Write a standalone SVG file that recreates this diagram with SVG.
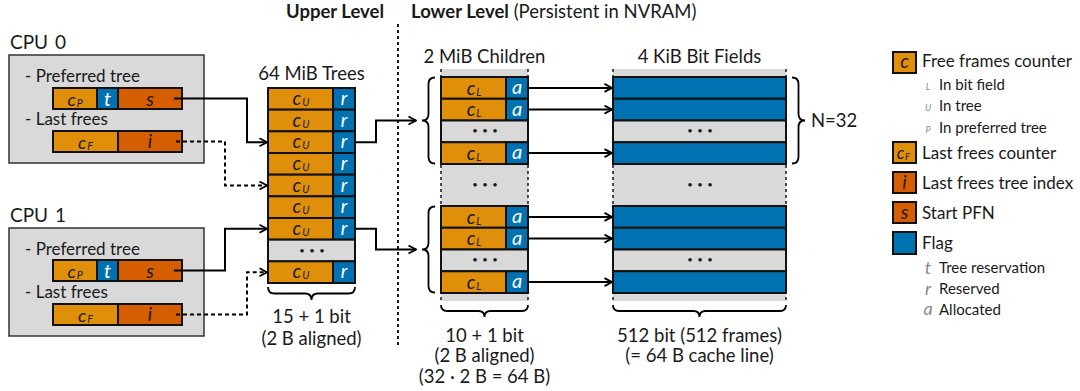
<svg xmlns="http://www.w3.org/2000/svg" width="1080" height="391" viewBox="0 0 1080 391">
<style>
text{font-family:Lato,"Open Sans","Liberation Sans",sans-serif;fill:#1a1a1a}
.m{font-style:italic}
.w{fill:#fff}
.g{fill:#888}
.or{fill:#DF8F0A;stroke:#111;stroke-width:2}
.ve{fill:#D55E00;stroke:#111;stroke-width:2}
.bl{fill:#0072B2;stroke:#111;stroke-width:2}
.gr{fill:#D9D9D9;stroke:#111;stroke-width:2}
.bg{fill:#D9D9D9}
.edge{stroke:#222;stroke-width:1.6;stroke-dasharray:3 3;fill:none}
.conn{fill:none;stroke:#000;stroke-width:2}
.dash{stroke-dasharray:4 3}
.brace{fill:none;stroke:#000;stroke-width:1.8}
.sep{stroke:#000;stroke-width:1.8;stroke-dasharray:3 3}
.dots{font-size:9.5px}
</style>
<defs>
<marker id="ah" viewBox="0 0 10 10" refX="9" refY="5" markerWidth="10" markerHeight="10" markerUnits="userSpaceOnUse" orient="auto">
<path d="M1.5,1 L9,5 L1.5,9" fill="none" stroke="#000" stroke-width="1.8"/>
</marker>
</defs>

<!-- headings -->
<g id="headings">
<text x="286" y="18" font-size="18.5" font-weight="bold">Upper Level</text>
<text x="411" y="18" font-size="18.5"><tspan font-weight="bold">Lower Level</tspan> (Persistent in NVRAM)</text>
<line class="sep" x1="398" y1="24" x2="398" y2="346"/>
</g>

<!-- CPU 0 -->
<g id="cpu0">
<text x="10" y="49" font-size="19">CPU <tspan x="55">0</tspan></text>
<rect x="9" y="55" width="195" height="108" fill="#D9D9D9" stroke="#333" stroke-width="1.5"/>
<text x="25" y="82" font-size="17">- Preferred tree</text>
<rect class="or" x="53" y="88" width="44" height="21"/>
<rect class="bl" x="97" y="88" width="21" height="21"/>
<rect class="ve" x="118" y="88" width="64" height="21"/>
<text class="m" x="75" y="106" font-size="18" text-anchor="middle">c<tspan font-size="10.5" dx="1" dy="1">P</tspan></text>
<text class="m w" x="107.5" y="106" font-size="20" text-anchor="middle">t</text>
<text class="m" x="150" y="106" font-size="19" text-anchor="middle">s</text>
<text x="25" y="125" font-size="17">- Last frees</text>
<rect class="or" x="53" y="131" width="65" height="21"/>
<rect class="ve" x="118" y="131" width="64" height="21"/>
<text class="m" x="85.5" y="149" font-size="18" text-anchor="middle">c<tspan font-size="10.5" dx="1" dy="1">F</tspan></text>
<text class="m" x="150" y="148" font-size="19" text-anchor="middle">i</text>
</g>

<!-- CPU 1 -->
<g id="cpu1">
<text x="10" y="222" font-size="19">CPU <tspan x="55">1</tspan></text>
<rect x="9" y="228" width="195" height="108" fill="#D9D9D9" stroke="#333" stroke-width="1.5"/>
<text x="25" y="255" font-size="17">- Preferred tree</text>
<rect class="or" x="53" y="260" width="44" height="21"/>
<rect class="bl" x="97" y="260" width="21" height="21"/>
<rect class="ve" x="118" y="260" width="64" height="21"/>
<text class="m" x="75" y="278" font-size="18" text-anchor="middle">c<tspan font-size="10.5" dx="1" dy="1">P</tspan></text>
<text class="m w" x="107.5" y="278" font-size="20" text-anchor="middle">t</text>
<text class="m" x="150" y="278" font-size="19" text-anchor="middle">s</text>
<text x="25" y="298" font-size="17">- Last frees</text>
<rect class="or" x="53" y="304" width="65" height="21"/>
<rect class="ve" x="118" y="304" width="64" height="21"/>
<text class="m" x="85.5" y="322" font-size="18" text-anchor="middle">c<tspan font-size="10.5" dx="1" dy="1">F</tspan></text>
<text class="m" x="150" y="321" font-size="19" text-anchor="middle">i</text>
</g>

<!-- 64 MiB Trees -->
<g id="trees">
<text x="311.5" y="80" font-size="18.5" text-anchor="middle">64 MiB Trees</text>
<rect class="or" x="268" y="88" width="65" height="21.67"/><rect class="bl" x="333" y="88" width="22" height="21.67"/>
<rect class="or" x="268" y="109.67" width="65" height="21.67"/><rect class="bl" x="333" y="109.67" width="22" height="21.67"/>
<rect class="or" x="268" y="131.33" width="65" height="21.67"/><rect class="bl" x="333" y="131.33" width="22" height="21.67"/>
<rect class="or" x="268" y="153" width="65" height="21.67"/><rect class="bl" x="333" y="153" width="22" height="21.67"/>
<rect class="or" x="268" y="174.67" width="65" height="21.67"/><rect class="bl" x="333" y="174.67" width="22" height="21.67"/>
<rect class="or" x="268" y="196.33" width="65" height="21.67"/><rect class="bl" x="333" y="196.33" width="22" height="21.67"/>
<rect class="or" x="268" y="218" width="65" height="21.67"/><rect class="bl" x="333" y="218" width="22" height="21.67"/>
<rect class="gr" x="268" y="239.67" width="87" height="21.67"/>
<rect class="or" x="268" y="261.33" width="65" height="21.67"/><rect class="bl" x="333" y="261.33" width="22" height="21.67"/>
<g font-size="19" text-anchor="middle">
<text class="m" x="301" y="105">c<tspan font-size="10.5" dx="1" dy="1">U</tspan></text>
<text class="m" x="301" y="126.7">c<tspan font-size="10.5" dx="1" dy="1">U</tspan></text>
<text class="m" x="301" y="148.3">c<tspan font-size="10.5" dx="1" dy="1">U</tspan></text>
<text class="m" x="301" y="170">c<tspan font-size="10.5" dx="1" dy="1">U</tspan></text>
<text class="m" x="301" y="191.7">c<tspan font-size="10.5" dx="1" dy="1">U</tspan></text>
<text class="m" x="301" y="213.3">c<tspan font-size="10.5" dx="1" dy="1">U</tspan></text>
<text class="m" x="301" y="235">c<tspan font-size="10.5" dx="1" dy="1">U</tspan></text>
<text class="m" x="301" y="278.3">c<tspan font-size="10.5" dx="1" dy="1">U</tspan></text>
</g>
<g font-size="19" text-anchor="middle">
<text class="m w" x="344" y="105">r</text>
<text class="m w" x="344" y="126.7">r</text>
<text class="m w" x="344" y="148.3">r</text>
<text class="m w" x="344" y="170">r</text>
<text class="m w" x="344" y="191.7">r</text>
<text class="m w" x="344" y="213.3">r</text>
<text class="m w" x="344" y="235">r</text>
<text class="m w" x="344" y="278.3">r</text>
</g>
<text class="dots" x="302 312 322" y="253.5" text-anchor="middle">•••</text>
<path class="brace" d="M268,287 Q268,293.5 274.5,293.5 H305 Q311.5,293.5 311.5,300 Q311.5,293.5 318,293.5 H348.5 Q355,293.5 355,287"/>
<text x="311.5" y="323" font-size="18.5" text-anchor="middle">15 + 1 bit</text>
<text x="311.5" y="345" font-size="18.5" text-anchor="middle">(2 B aligned)</text>
</g>

<!-- 2 MiB Children -->
<g id="children">
<text x="484.5" y="63" font-size="18.5" text-anchor="middle">2 MiB Children</text>
<rect class="bg" x="441" y="69" width="87" height="232"/>
<line class="edge" x1="441" y1="69" x2="441" y2="301"/>
<line class="edge" x1="528" y1="69" x2="528" y2="301"/>
<rect class="or" x="441" y="77" width="65" height="21.75"/><rect class="bl" x="506" y="77" width="22" height="21.75"/>
<rect class="or" x="441" y="98.75" width="65" height="21.75"/><rect class="bl" x="506" y="98.75" width="22" height="21.75"/>
<rect class="gr" x="441" y="120.5" width="87" height="21.75"/>
<rect class="or" x="441" y="142.25" width="65" height="21.75"/><rect class="bl" x="506" y="142.25" width="22" height="21.75"/>
<rect class="or" x="441" y="206" width="65" height="21.75"/><rect class="bl" x="506" y="206" width="22" height="21.75"/>
<rect class="or" x="441" y="227.75" width="65" height="21.75"/><rect class="bl" x="506" y="227.75" width="22" height="21.75"/>
<rect class="gr" x="441" y="249.5" width="87" height="21.75"/>
<rect class="or" x="441" y="271.25" width="65" height="21.75"/><rect class="bl" x="506" y="271.25" width="22" height="21.75"/>
<g font-size="19" text-anchor="middle">
<text class="m" x="474" y="94.5">c<tspan font-size="10.5" dx="1" dy="1">L</tspan></text>
<text class="m" x="474" y="116.2">c<tspan font-size="10.5" dx="1" dy="1">L</tspan></text>
<text class="m" x="474" y="159.7">c<tspan font-size="10.5" dx="1" dy="1">L</tspan></text>
<text class="m" x="474" y="223.5">c<tspan font-size="10.5" dx="1" dy="1">L</tspan></text>
<text class="m" x="474" y="245.2">c<tspan font-size="10.5" dx="1" dy="1">L</tspan></text>
<text class="m" x="474" y="288.7">c<tspan font-size="10.5" dx="1" dy="1">L</tspan></text>
</g>
<g font-size="20" text-anchor="middle">
<text class="m w" x="517" y="94">a</text>
<text class="m w" x="517" y="115.7">a</text>
<text class="m w" x="517" y="159.2">a</text>
<text class="m w" x="517" y="223">a</text>
<text class="m w" x="517" y="244.7">a</text>
<text class="m w" x="517" y="288.2">a</text>
</g>
<text class="dots" x="475 485 495" y="134.4" text-anchor="middle">•••</text>
<text class="dots" x="475 485 495" y="188" text-anchor="middle">•••</text>
<text class="dots" x="475 485 495" y="263.4" text-anchor="middle">•••</text>
<path class="brace" d="M435,77.5 Q428.5,77.5 428.5,84 V114 Q428.5,120.5 422,120.5 Q428.5,120.5 428.5,127 V157 Q428.5,163.5 435,163.5"/>
<path class="brace" d="M435,206.5 Q428.5,206.5 428.5,213 V243 Q428.5,249.5 422,249.5 Q428.5,249.5 428.5,256 V286 Q428.5,292.5 435,292.5"/>
<path class="brace" d="M441,305 Q441,311 447,311 H478.5 Q484.5,311 484.5,317 Q484.5,311 490.5,311 H522 Q528,311 528,305"/>
<text x="484.5" y="342" font-size="18.5" text-anchor="middle">10 + 1 bit</text>
<text x="484.5" y="362" font-size="18.5" text-anchor="middle">(2 B aligned)</text>
<text x="484.5" y="383" font-size="18.5" text-anchor="middle">(32 · 2 B = 64 B)</text>
</g>

<!-- 4 KiB Bit Fields -->
<g id="bitfields">
<text x="699.5" y="63" font-size="18.5" text-anchor="middle">4 KiB Bit Fields</text>
<rect class="bg" x="613" y="69" width="173" height="232"/>
<line class="edge" x1="613" y1="69" x2="613" y2="301"/>
<line class="edge" x1="786" y1="69" x2="786" y2="301"/>
<rect class="bl" x="613" y="77" width="173" height="21.75"/>
<rect class="bl" x="613" y="98.75" width="173" height="21.75"/>
<rect class="gr" x="613" y="120.5" width="173" height="21.75"/>
<rect class="bl" x="613" y="142.25" width="173" height="21.75"/>
<rect class="bl" x="613" y="206" width="173" height="21.75"/>
<rect class="bl" x="613" y="227.75" width="173" height="21.75"/>
<rect class="gr" x="613" y="249.5" width="173" height="21.75"/>
<rect class="bl" x="613" y="271.25" width="173" height="21.75"/>
<text class="dots" x="690 700 710" y="134.4" text-anchor="middle">•••</text>
<text class="dots" x="690 700 710" y="188" text-anchor="middle">•••</text>
<text class="dots" x="690 700 710" y="263.4" text-anchor="middle">•••</text>
<path class="brace" d="M792,77.5 Q798.5,77.5 798.5,84 V114 Q798.5,120.5 805,120.5 Q798.5,120.5 798.5,127 V157 Q798.5,163.5 792,163.5"/>
<text x="811" y="127" font-size="18.5">N=32</text>
<path class="brace" d="M613,305 Q613,311 619,311 H693.5 Q699.5,311 699.5,317 Q699.5,311 705.5,311 H780 Q786,311 786,305"/>
<text x="699.5" y="342" font-size="18.5" text-anchor="middle">512 bit (512 frames)</text>
<text x="699.5" y="362" font-size="18.5" text-anchor="middle">(= 64 B cache line)</text>
</g>

<!-- connectors -->
<g id="connectors">
<path class="conn" marker-end="url(#ah)" d="M174,98.5 H247 V142.2 H267"/>
<path class="conn dash" marker-end="url(#ah)" d="M176,141.5 H225 V185.5 H267"/>
<path class="conn" marker-end="url(#ah)" d="M174,270.5 H225 V228.8 H267"/>
<path class="conn dash" marker-end="url(#ah)" d="M176,314.5 H247 V272.2 H267"/>
<path class="conn" marker-end="url(#ah)" d="M355,142.2 H376 V120.5 H416"/>
<path class="conn" marker-end="url(#ah)" d="M355,228.8 H376 V249.5 H416"/>
<path class="conn" marker-end="url(#ah)" d="M528,87.9 H612"/>
<path class="conn" marker-end="url(#ah)" d="M528,109.6 H612"/>
<path class="conn" marker-end="url(#ah)" d="M528,153.1 H612"/>
<path class="conn" marker-end="url(#ah)" d="M528,216.9 H612"/>
<path class="conn" marker-end="url(#ah)" d="M528,238.6 H612"/>
<path class="conn" marker-end="url(#ah)" d="M528,282.1 H612"/>
</g>

<!-- legend -->
<g id="legend">
<rect class="or" x="893" y="52" width="23" height="21"/>
<text class="m" x="904.5" y="68" font-size="19" text-anchor="middle">c</text>
<text x="922" y="67" font-size="17">Free frames counter</text>
<text class="m g" x="928" y="90" font-size="9" text-anchor="middle">L</text>
<text x="939" y="90" font-size="15">In bit field</text>
<text class="m g" x="928" y="111" font-size="9" text-anchor="middle">U</text>
<text x="939" y="111" font-size="15">In tree</text>
<text class="m g" x="928" y="133" font-size="9" text-anchor="middle">P</text>
<text x="939" y="133" font-size="15">In preferred tree</text>
<rect class="or" x="893" y="142" width="23" height="21"/>
<text class="m" x="903.5" y="159" font-size="17" text-anchor="middle">c<tspan font-size="9.5" dx="0.5" dy="1">F</tspan></text>
<text x="922" y="159" font-size="17">Last frees counter</text>
<rect class="ve" x="893" y="172" width="23" height="21"/>
<text class="m" x="904.5" y="189" font-size="19" text-anchor="middle">i</text>
<text x="922" y="189" font-size="17">Last frees tree index</text>
<rect class="ve" x="893" y="202" width="23" height="21"/>
<text class="m" x="904.5" y="219" font-size="19" text-anchor="middle">s</text>
<text x="922" y="219" font-size="17">Start PFN</text>
<rect class="bl" x="893" y="232" width="23" height="22"/>
<text x="922" y="249" font-size="17">Flag</text>
<text class="m g" x="928" y="274" font-size="18" text-anchor="middle">t</text>
<text x="939" y="273" font-size="15">Tree reservation</text>
<text class="m g" x="928" y="295" font-size="18" text-anchor="middle">r</text>
<text x="939" y="294" font-size="15">Reserved</text>
<text class="m g" x="928" y="315" font-size="18" text-anchor="middle">a</text>
<text x="939" y="315" font-size="15">Allocated</text>
</g>
</svg>
